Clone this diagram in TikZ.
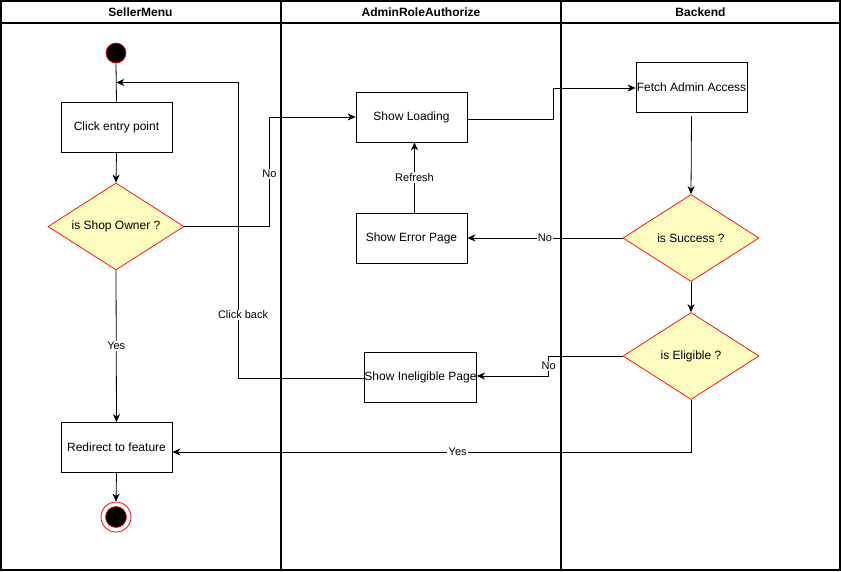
\documentclass[tikz,border=0pt]{standalone}
\usepackage{fontspec}
\setmainfont{Liberation Sans}
\usetikzlibrary{shapes.geometric,arrows.meta,calc}

\tikzset{
  lane/.style={draw=black, line width=1.4pt},
  header/.style={font=\fontsize{12}{14}\selectfont\bfseries, inner sep=0pt},
  stepbox/.style={rectangle, draw=black, line width=0.8pt, fill=white,
    minimum width=111pt, minimum height=50pt, inner sep=0pt,
    font=\fontsize{12}{14}\selectfont},
  decision/.style={diamond, draw=red, fill=yellow!25!white, line width=0.7pt,
    aspect=1.56, minimum width=136pt, minimum height=87pt, inner sep=0pt,
    font=\fontsize{12}{14}\selectfont},
  startstate/.style={circle, draw=red, fill=black, line width=0.7pt,
    minimum size=20pt, inner sep=0pt},
  endstate/.style={circle, draw=red, fill=white, line width=0.8pt,
    minimum size=30pt, inner sep=0pt,
    path picture={\filldraw[draw=red, fill=black, line width=0.6pt]
      (path picture bounding box.center) circle (10.5pt);}},
  flow/.style={draw=black, line width=0.8pt, -{Stealth[length=8pt,width=7pt,inset=2.5pt]}},
  plain/.style={draw=black, line width=0.8pt},
  lbl/.style={fill=white, inner sep=1.2pt, font=\fontsize{11}{13}\selectfont}
}

\begin{document}
\begin{tikzpicture}[x=1pt,y=-1pt]
  \useasboundingbox (0,0) rectangle (841,571);
  \fill[white] (0,0) rectangle (841,571);

  % swimlanes
  \draw[lane] (1,1) rectangle (840,570);
  \draw[lane] (1,23) -- (840,23);
  \draw[lane] (281,1) -- (281,570);
  \draw[lane] (561,1) -- (561,570);
  \node[header] (hSeller) at (140.5,12) {SellerMenu};
  \node[header] (hAdmin)  at (421,12)   {AdminRoleAuthorize};
  \node[header] (hBack)   at (700.5,12) {Backend};

  % SellerMenu lane
  \node[startstate] (start) at (116,53) {};
  \node[stepbox]    (click) at (116.5,127) {Click entry point};
  \node[decision]   (shop)  at (116,226.5) {is Shop Owner ?};
  \node[stepbox]    (redir) at (116.5,447.5) {Redirect to feature};
  \node[endstate]   (stop)  at (116,517) {};

  % AdminRoleAuthorize lane
  \node[stepbox] (load)  at (411.5,117) {Show Loading};
  \node[stepbox] (err)   at (411.5,238) {Show Error Page};
  \node[stepbox] (inel)  at (420.5,377) {Show Ineligible Page};

  % Backend lane
  \node[stepbox]  (fetch) at (691.5,87) {Fetch Admin Access};
  \node[decision] (succ)  at (691,238) {is Success ?};
  \node[decision] (elig)  at (691,356) {is Eligible ?};

  % connectors
  \coordinate (backin) at ($(start.south)!0.5!(click.north)$);
  \draw[plain] (start.south) -- (click.north);
  \draw[flow]  (click.south) -- (shop.north);
  \draw[flow]  (shop.south) -- node[lbl, pos=0.5] {Yes} (redir.north);
  \draw[flow]  (redir.south) -- (stop.north);

  \draw[flow]  (shop.east) -- ++(85,0) |- node[lbl, pos=0.24] {No} (load.west);
  \draw[flow]  ([yshift=-2pt]load.east) -- ++(86,0) |- ([yshift=-1pt]fetch.west);
  \draw[flow]  ([yshift=-4pt]fetch.south) -- (succ.north);
  \draw[flow]  (succ.west) -- node[lbl, pos=0.5] {No} (err.east);
  \draw[flow]  ([xshift=3pt]err.north) -- node[lbl, pos=0.5] {Refresh} ([xshift=3pt]load.south);
  \draw[flow]  (succ.south) -- (elig.north);

  \draw[flow]  (elig.west) -- ++(-74,0) |- node[lbl, pos=0.25] {No} ([yshift=1pt]inel.east);
  \draw[flow]  ([yshift=-1pt]inel.west) -- ++(-126,0) |- node[lbl, pos=0.107, xshift=5pt] {Click back} (backin);
  \draw[flow]  (elig.south) -- (691,452) -- node[lbl, pos=0.45] {Yes} ([yshift=-4.5pt]redir.east);
\end{tikzpicture}
\end{document}
